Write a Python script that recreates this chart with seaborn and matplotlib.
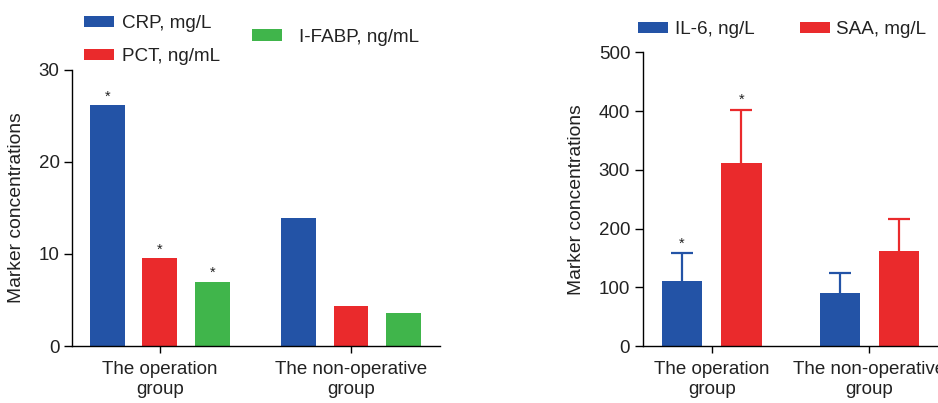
import matplotlib
matplotlib.use("Agg")
import matplotlib.pyplot as plt
from matplotlib.container import BarContainer
import pandas as pd
import seaborn as sns

# ---- data ----
groups = ["The operation\ngroup", "The non-operative\ngroup"]

left_markers = ["CRP, mg/L", "PCT, ng/mL", "I-FABP, ng/mL"]
crp = [26.2, 13.9]
pct = [9.6, 4.3]
ifabp = [7.0, 3.6]
left_sig = [[True, False], [True, False], [True, False]]

right_markers = ["IL-6, ng/L", "SAA, mg/L"]
il6 = [111, 91]
il6_sd = [47, 34]
saa = [311, 161]
saa_sd = [91, 55]
right_sig = [[True, False], [True, False]]

blue, red, green = "#2353a6", "#ea2a2c", "#40b54b"
ink = "#222222"

sns.set_theme(style="ticks")
plt.rcParams["font.family"] = ["Liberation Sans", "DejaVu Sans"]
plt.rcParams["axes.edgecolor"] = "black"
plt.rcParams["axes.linewidth"] = 1.0
plt.rcParams["text.color"] = ink
plt.rcParams["xtick.color"] = "black"
plt.rcParams["ytick.color"] = "black"
plt.rcParams["xtick.labelcolor"] = ink
plt.rcParams["ytick.labelcolor"] = ink

left_df = pd.DataFrame({
    "group": groups * 3,
    "marker": [m for m in left_markers for _ in groups],
    "value": crp + pct + ifabp,
})
right_df = pd.DataFrame({
    "group": groups * 2,
    "marker": [m for m in right_markers for _ in groups],
    "value": il6 + saa,
})

fig = plt.figure(figsize=(9.38, 4.03), dpi=100)
ax1 = fig.add_axes([0.0768, 0.1414, 0.3923, 0.685])
ax2 = fig.add_axes([0.6852, 0.1414, 0.3256, 0.7288])

sns.barplot(data=left_df, x="group", y="value", hue="marker",
            palette=[blue, red, green], saturation=1, width=0.825, gap=0.335,
            edgecolor="none", linewidth=0, errorbar=None, ax=ax1, zorder=2)
sns.barplot(data=right_df, x="group", y="value", hue="marker",
            palette=[blue, red], saturation=1, width=0.755, gap=0.327,
            edgecolor="none", linewidth=0, errorbar=None, ax=ax2, zorder=2)

bars1 = [c for c in ax1.containers if isinstance(c, BarContainer)]
bars2 = [c for c in ax2.containers if isinstance(c, BarContainer)]

# upper-only error bars for the right panel
for cont, sd, col in zip(bars2, [il6_sd, saa_sd], [blue, red]):
    xs = [b.get_x() + b.get_width() / 2 for b in cont]
    ys = [b.get_height() for b in cont]
    _, caps, _ = ax2.errorbar(xs, ys, yerr=[[0] * len(sd), sd], fmt="none",
                              ecolor=col, elinewidth=1.6, capsize=8,
                              capthick=1.6, zorder=1)
    caps[0].set_visible(False)  # no cap at the bar top

# significance marks
for cont, sig in zip(bars1, left_sig):
    for b, s in zip(cont, sig):
        if s:
            ax1.annotate("*", (b.get_x() + b.get_width() / 2, b.get_height()),
                         xytext=(0, 1), textcoords="offset points",
                         ha="center", va="bottom", fontsize=10.5, color=ink)
for cont, sd, sig in zip(bars2, [il6_sd, saa_sd], right_sig):
    for b, e, s in zip(cont, sd, sig):
        if s:
            ax2.annotate("*", (b.get_x() + b.get_width() / 2, b.get_height() + e),
                         xytext=(0, 2), textcoords="offset points",
                         ha="center", va="bottom", fontsize=10.5, color=ink)

for ax in (ax1, ax2):
    sns.despine(ax=ax)
    ax.set_xlabel("")
    ax.set_ylabel("Marker concentrations", fontsize=13.9, color=ink)
    ax.tick_params(axis="y", length=6, width=1, labelsize=13.5, pad=3)
    ax.tick_params(axis="x", length=5, width=1, labelsize=13.5, pad=6)
    ax.get_legend().remove()

ax1.set_xlim(-0.46, 1.466)
ax1.set_ylim(0, 30)
ax1.set_yticks([0, 10, 20, 30])
ax1.yaxis.set_label_coords(-0.128, 0.5)

ax2.set_xlim(-0.438, 1.5)
ax2.set_ylim(0, 500)
ax2.set_yticks([0, 100, 200, 300, 400, 500])
ax2.yaxis.set_label_coords(-0.189, 0.5)

# legends
h1 = [c.patches[0] for c in bars1]
h2 = [c.patches[0] for c in bars2]
leg_kw = dict(frameon=False, fontsize=13.6, handlelength=1.6, handleheight=0.55,
              borderpad=0, borderaxespad=0)
lg_a = fig.legend(h1[:2], left_markers[:2], loc="center left",
                  bbox_to_anchor=(0.0896, 0.9007), labelspacing=0.85,
                  handletextpad=0.4, **leg_kw)
lg_b = fig.legend(h1[2:], left_markers[2:], loc="center left",
                  bbox_to_anchor=(0.2687, 0.908), handletextpad=0.9, **leg_kw)
lg_c = fig.legend(h2, right_markers, loc="center left", ncol=2,
                  bbox_to_anchor=(0.680, 0.9256), handletextpad=0.35,
                  columnspacing=2.4, **leg_kw)

fig.savefig("out.png", dpi=100)
